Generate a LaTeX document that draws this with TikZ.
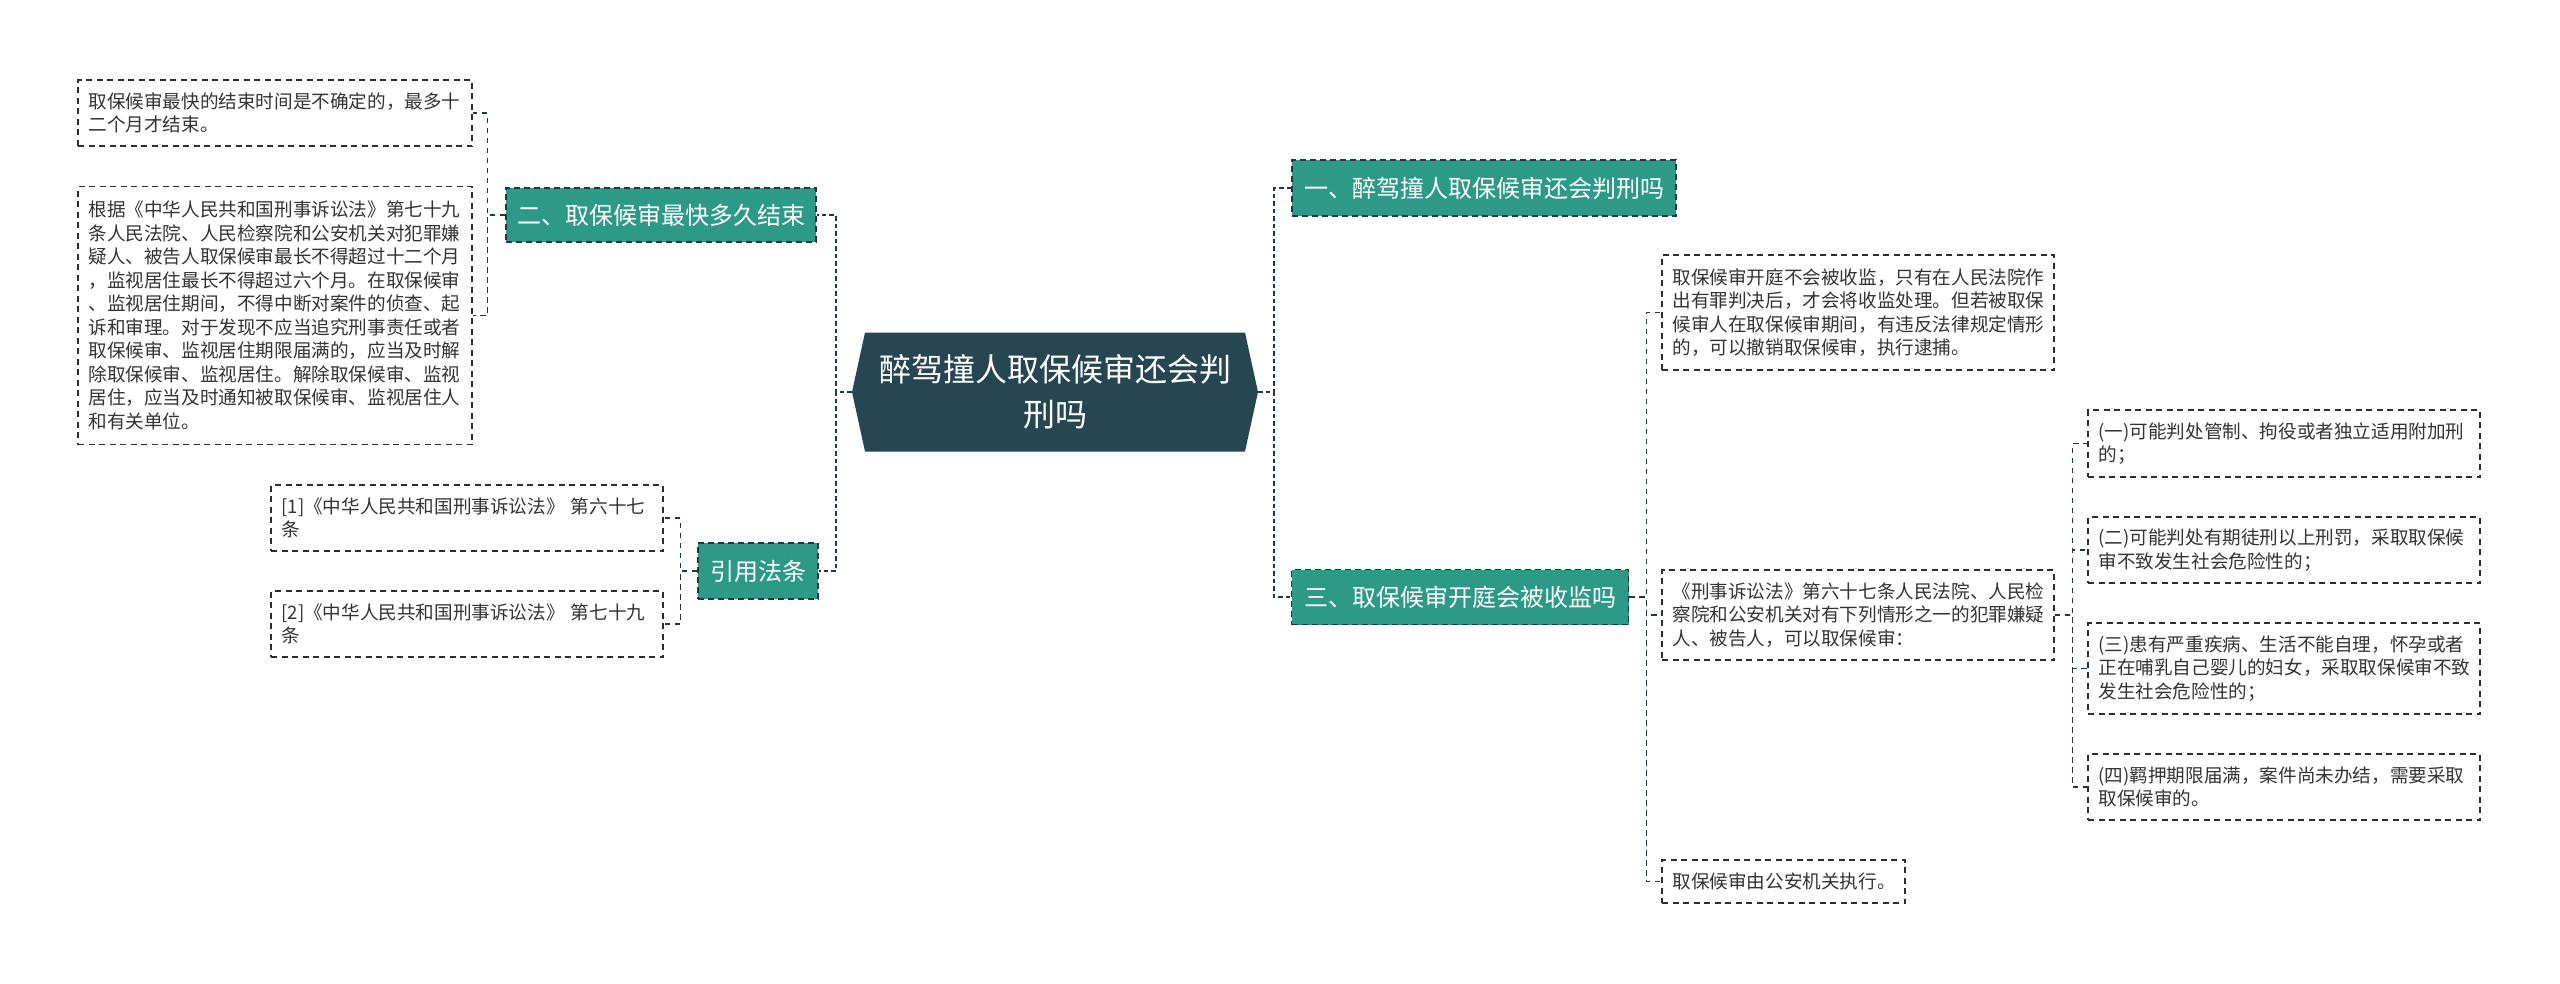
\documentclass[tikz,border=0pt]{standalone}
\usepackage{fontspec}
\setmainfont{Noto Sans CJK SC}
\definecolor{teal1}{RGB}{44,154,134}
\definecolor{darkc}{RGB}{38,70,82}
\definecolor{linec}{RGB}{34,56,64}
\definecolor{boxline}{RGB}{45,45,45}
\definecolor{txt}{RGB}{51,51,51}
\tikzset{
 tbox/.style={draw=boxline, line width=1.3pt, dash pattern=on 6pt off 4.5pt, text=txt,
   font=\fontsize{18.6}{23.5}\selectfont, align=left, inner xsep=10.5pt, inner ysep=0pt},
 topic/.style={fill=teal1, draw=linec, line width=1.4pt, dash pattern=on 6pt off 4pt,
   text=white, font=\fontsize{24}{28}\selectfont, inner sep=0pt},
 trunk/.style={draw=linec, line width=1.8pt, dash pattern=on 4.5pt off 3pt},
 leaf/.style={draw=linec, line width=1.4pt, dash pattern=on 5.5pt off 4.5pt},
}
\begin{document}
\begin{tikzpicture}[x=1pt,y=-1pt]
\useasboundingbox (0,0) rectangle (2560,983);
\fill[white] (0,0) rectangle (2560,983);

% central
\node[inner sep=0pt, minimum width=406pt, minimum height=119pt, text=white,
  font=\fontsize{32}{45}\selectfont, align=center,
  path picture={\fill[darkc] ([xshift=13pt]path picture bounding box.north west) -- ([xshift=-13pt]path picture bounding box.north east) -- (path picture bounding box.east) -- ([xshift=-13pt]path picture bounding box.south east) -- ([xshift=13pt]path picture bounding box.south west) -- (path picture bounding box.west) -- cycle;}]
  (c) at (1055,392) {醉驾撞人取保候审还会判\\刑吗};

% topics
\node[topic, minimum width=310pt, minimum height=54pt] (t2) at (661,215) {二、取保候审最快多久结束};
\node[topic, minimum width=120pt, minimum height=56pt] (t4) at (758,571) {引用法条};
\node[topic, minimum width=384pt, minimum height=56pt] (t1) at (1484,188) {一、醉驾撞人取保候审还会判刑吗};
\node[topic, minimum width=337pt, minimum height=55pt] (t3) at (1460,597) {三、取保候审开庭会被收监吗};

% left leaves
\node[tbox, text width=373pt, minimum height=66pt] (a1) at (275,113)
 {取保候审最快的结束时间是不确定的，最多十\\二个月才结束。};
\node[tbox, text width=373pt, minimum height=258pt] (a2) at (275,315.5)
 {根据《中华人民共和国刑事诉讼法》第七十九\\条人民法院、人民检察院和公安机关对犯罪嫌\\疑人、被告人取保候审最长不得超过十二个月\\，监视居住最长不得超过六个月。在取保候审\\、监视居住期间，不得中断对案件的侦查、起\\诉和审理。对于发现不应当追究刑事责任或者\\取保候审、监视居住期限届满的，应当及时解\\除取保候审、监视居住。解除取保候审、监视\\居住，应当及时通知被取保候审、监视居住人\\和有关单位。};
\node[tbox, text width=371pt, minimum height=66pt] (b1) at (467,518)
 {[1]《中华人民共和国刑事诉讼法》 第六十七\\条};
\node[tbox, text width=371pt, minimum height=66pt] (b2) at (467,624)
 {[2]《中华人民共和国刑事诉讼法》 第七十九\\条};

% right leaves
\node[tbox, text width=371pt, minimum height=115pt] (r1) at (1858,312.5)
 {取保候审开庭不会被收监，只有在人民法院作\\出有罪判决后，才会将收监处理。但若被取保\\候审人在取保候审期间，有违反法律规定情形\\的，可以撤销取保候审，执行逮捕。};
\node[tbox, text width=371pt, minimum height=90pt] (r2) at (1858,615)
 {《刑事诉讼法》第六十七条人民法院、人民检\\察院和公安机关对有下列情形之一的犯罪嫌疑\\人、被告人，可以取保候审：};
\node[tbox, text width=222pt, minimum height=43pt] (r3) at (1783.5,881.5)
 {取保候审由公安机关执行。};

\node[tbox, text width=371pt, minimum height=67pt] (s1) at (2284,443.5)
 {(一)可能判处管制、拘役或者独立适用附加刑\\的；};
\node[tbox, text width=371pt, minimum height=66pt] (s2) at (2284,550)
 {(二)可能判处有期徒刑以上刑罚，采取取保候\\审不致发生社会危险性的；};
\node[tbox, text width=371pt, minimum height=91pt] (s3) at (2284,668.5)
 {(三)患有严重疾病、生活不能自理，怀孕或者\\正在哺乳自己婴儿的妇女，采取取保候审不致\\发生社会危险性的；};
\node[tbox, text width=371pt, minimum height=66pt] (s4) at (2284,787)
 {(四)羁押期限届满，案件尚未办结，需要采取\\取保候审的。};

% trunk connectors
\draw[trunk] (c.west) -- ++(-16,0) |- (t2.east);
\draw[trunk] (c.west) -- ++(-16,0) |- (t4.east);
\draw[trunk] (c.east) -- ++(16,0) |- (t1.west);
\draw[trunk] (c.east) -- ++(16,0) |- (t3.west);

% leaf connectors
\draw[leaf] (t2.west) -- ++(-18,0) |- (a1.east);
\draw[leaf] (t2.west) -- ++(-18,0) |- (a2.east);
\draw[leaf] (t4.west) -- ++(-17,0) |- (b1.east);
\draw[leaf] (t4.west) -- ++(-17,0) |- (b2.east);
\draw[leaf] (t3.east) -- ++(17,0) |- (r1.west);
\draw[leaf] (t3.east) -- ++(17,0) |- (r2.west);
\draw[leaf] (t3.east) -- ++(17,0) |- (r3.west);
\draw[leaf] (r2.east) -- ++(18,0) |- (s1.west);
\draw[leaf] (r2.east) -- ++(18,0) |- (s2.west);
\draw[leaf] (r2.east) -- ++(18,0) |- (s3.west);
\draw[leaf] (r2.east) -- ++(18,0) |- (s4.west);
\end{tikzpicture}
\end{document}
